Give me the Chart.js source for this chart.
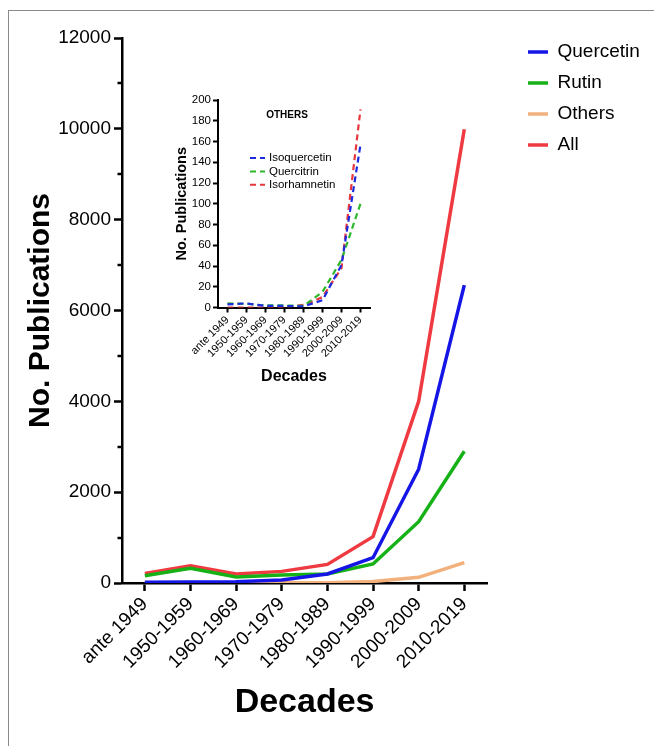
<!DOCTYPE html>
<html>
<head>
<meta charset="utf-8">
<script src="https://cdn.jsdelivr.net/npm/chart.js@4.4.1/dist/chart.umd.min.js"></script>
<style>
  html, body { margin: 0; padding: 0; background: #fff; }
  #frame { position: absolute; left: 8px; top: 10px; width: 646px; height: 736px;
           border-left: 1px solid #8a8a8a; border-top: 1px solid #8a8a8a; }
  #main { position: absolute; left: 0; top: 0; }
  #inset { position: absolute; left: 165px; top: 90px; }
</style>
</head>
<body>
<div id="frame"></div>
<canvas id="main" width="654" height="746"></canvas>
<canvas id="inset" width="215" height="300"></canvas>
<script>
const decades = ['ante 1949', '1950-1959', '1960-1969', '1970-1979', '1980-1989', '1990-1999', '2000-2009', '2010-2019'];

// main chart
const quercetin = [15, 22, 30, 66, 198, 557, 2505, 6560];
const rutin = [160, 322, 132, 176, 200, 420, 1350, 2900];
const others = [7, 7, 3, 4, 5, 32, 125, 448];
const all = [212, 380, 198, 256, 410, 1020, 4000, 9990];
const mainYTicks = [0, 2000, 4000, 6000, 8000, 10000, 12000];
const mainMinorTicks = [1000, 3000, 5000, 7000, 9000, 11000];

// inset "OTHERS"
const isoquercetin = [3, 4, 1.5, 1.5, 1, 7, 41, 157];
const quercitrin = [4, 3.5, 2, 2, 1.5, 15, 46, 100];
const isorhamnetin = [0, 0, 0, 0.5, 2.5, 10, 38, 191];
const insetYTicks = [0, 20, 40, 60, 80, 100, 120, 140, 160, 180, 200];

const FONT = '"Liberation Sans", Arial, sans-serif';
Chart.defaults.font.family = FONT;
Chart.defaults.color = '#000';

const minorTicks = {
  id: 'minorTicks',
  afterDraw(chart, args, opts) {
    const ctx = chart.ctx;
    const y = chart.scales.y;
    const x0 = chart.chartArea.left;
    ctx.save();
    ctx.strokeStyle = '#000';
    ctx.lineWidth = 2.5;
    opts.values.forEach(v => {
      const py = Math.round(y.getPixelForValue(v));
      ctx.beginPath();
      ctx.moveTo(x0, py);
      ctx.lineTo(x0 - opts.length, py);
      ctx.stroke();
    });
    ctx.restore();
  }
};

// move the legend to where the original has it
const legendPlacer = {
  id: 'legendPlacer',
  afterLayout(chart, args, opts) {
    const lg = chart.legend;
    const dx = opts.left - lg.left, dy = opts.top - lg.top;
    lg.left += dx; lg.right += dx;
    lg.top += dy; lg.bottom += dy;
  }
};

new Chart(document.getElementById('main'), {
  type: 'line',
  data: {
    labels: decades,
    datasets: [
      { label: 'Quercetin', data: quercetin, borderColor: '#1515e6' },
      { label: 'Rutin', data: rutin, borderColor: '#16b116' },
      { label: 'Others', data: others, borderColor: '#f2b07c' },
      { label: 'All', data: all, borderColor: '#ee3a40' }
    ].map(d => ({ ...d, backgroundColor: d.borderColor, borderWidth: 3.5, pointRadius: 0, tension: 0, fill: false }))
  },
  options: {
    responsive: false,
    animation: false,
    devicePixelRatio: 1,
    layout: { padding: { left: 10, top: 38, right: 33, bottom: 20 } },
    plugins: {
      tooltip: { enabled: false },
      legend: {
        position: 'right',
        align: 'start',
        labels: {
          usePointStyle: true,
          pointStyle: 'line',
          pointStyleWidth: 20,
          padding: 12,
          color: '#000',
          font: { size: 19 }
        }
      },
      legendPlacer: { left: 516, top: 30.5 },
      minorTicks: { values: mainMinorTicks, length: 4.5 }
    },
    scales: {
      x: {
        offset: true,
        afterFit: s => { s.height = 143; },
        border: { color: '#000', width: 2.5 },
        grid: { offset: false, drawOnChartArea: false, tickLength: 8, tickColor: '#000', tickWidth: 2.5 },
        ticks: { autoSkip: false, minRotation: 45, maxRotation: 45, padding: 2, color: '#000', font: { size: 19 } },
        title: { display: true, text: 'Decades', color: '#000', font: { size: 34, weight: 'bold' }, padding: { top: 0, bottom: 2.6 } }
      },
      y: {
        min: 0,
        max: 12000,
        afterBuildTicks: s => { s.ticks = mainYTicks.map(v => ({ value: v })); },
        afterFit: s => { s.width = 112; },
        border: { color: '#000', width: 2.5 },
        grid: { drawOnChartArea: false, tickLength: 8, tickColor: '#000', tickWidth: 2.5 },
        ticks: { padding: 3, color: '#000', font: { size: 19 }, callback: v => String(v) },
        title: { display: true, text: 'No. Publications', color: '#000', font: { size: 30, weight: 'bold' }, padding: { top: 13, bottom: 0 } }
      }
    }
  },
  plugins: [minorTicks, legendPlacer]
});

// legend + title drawn inside the inset plot area
const insetLegend = {
  id: 'insetLegend',
  afterDatasetsDraw(chart, args, opts) {
    const ctx = chart.ctx;
    ctx.save();
    ctx.fillStyle = '#000';
    ctx.textBaseline = 'middle';
    ctx.textAlign = 'center';
    ctx.font = 'bold 10px ' + FONT;
    ctx.fillText(opts.title, opts.titleX, opts.titleY);
    ctx.textAlign = 'left';
    ctx.font = '11.5px ' + FONT;
    chart.data.datasets.forEach((ds, i) => {
      const y = opts.y + i * opts.rowHeight;
      ctx.strokeStyle = ds.borderColor;
      ctx.lineWidth = 2;
      ctx.setLineDash(ds.borderDash);
      ctx.beginPath();
      ctx.moveTo(opts.x, y);
      ctx.lineTo(opts.x + 15, y);
      ctx.stroke();
      ctx.fillText(ds.label, opts.x + 19, y);
    });
    ctx.restore();
  }
};

new Chart(document.getElementById('inset'), {
  type: 'line',
  data: {
    labels: decades,
    datasets: [
      { label: 'Isoquercetin', data: isoquercetin, borderColor: '#1d2be0' },
      { label: 'Quercitrin', data: quercitrin, borderColor: '#2db82d' },
      { label: 'Isorhamnetin', data: isorhamnetin, borderColor: '#e8363d' }
    ].map(d => ({ ...d, borderWidth: 2.2, borderDash: [6, 4], pointRadius: 0, tension: 0, fill: false }))
  },
  options: {
    responsive: false,
    animation: false,
    devicePixelRatio: 1,
    layout: { padding: { left: 0, top: 10, right: 10, bottom: 0 } },
    plugins: {
      legend: { display: false },
      tooltip: { enabled: false },
      insetLegend: { title: 'OTHERS', titleX: 122, titleY: 25, x: 85, y: 68, rowHeight: 13.4 }
    },
    scales: {
      x: {
        offset: true,
        afterFit: s => { s.height = 82.5; },
        border: { color: '#000', width: 2 },
        grid: { offset: false, drawOnChartArea: false, tickLength: 5, tickColor: '#000', tickWidth: 2 },
        ticks: { autoSkip: false, minRotation: 45, maxRotation: 45, padding: 1, color: '#000', font: { size: 11 } },
        title: { display: true, text: 'Decades', color: '#000', font: { size: 16, weight: 'bold' }, padding: { top: 0, bottom: 3.7 } }
      },
      y: {
        min: 0,
        max: 200,
        afterBuildTicks: s => { s.ticks = insetYTicks.map(v => ({ value: v })); },
        afterFit: s => { s.width = 53; },
        border: { color: '#000', width: 2 },
        grid: { drawOnChartArea: false, tickLength: 5, tickColor: '#000', tickWidth: 2 },
        ticks: { padding: 2, color: '#000', font: { size: 11.5 } },
        title: { display: true, text: 'No. Publications', color: '#000', font: { size: 14.5, weight: 'bold' }, padding: { top: 8, bottom: 0 } }
      }
    }
  },
  plugins: [insetLegend]
});
</script>
</body>
</html>
